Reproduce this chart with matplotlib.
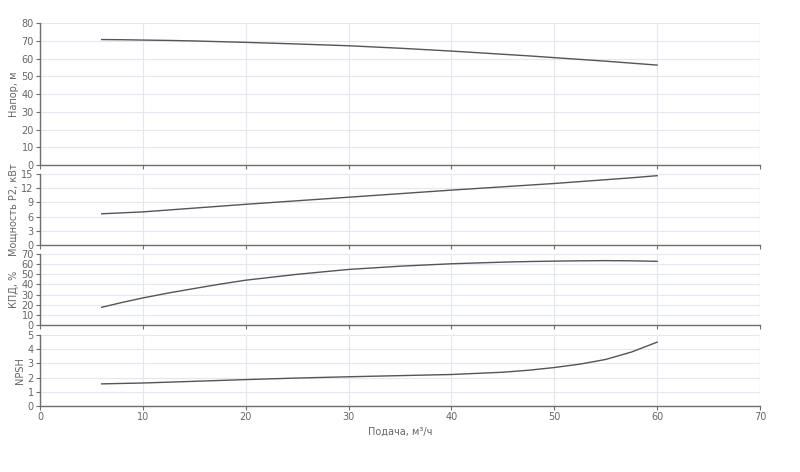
import matplotlib.pyplot as plt

# flow, m3/h
flow = [6, 8, 10, 12.5, 15, 17.5, 20, 25, 30, 35, 40, 45, 47.5, 50, 52.5, 55, 57.5, 60]
head = [70.7, 70.6, 70.4, 70.2, 69.9, 69.5, 69.1, 68.2, 67.2, 65.8, 64.2, 62.4, 61.5, 60.5,
        59.5, 58.5, 57.4, 56.3]
power = [6.6, 6.8, 7.0, 7.4, 7.8, 8.2, 8.6, 9.35, 10.1, 10.85, 11.6, 12.3, 12.65, 13.0,
         13.4, 13.8, 14.2, 14.65]
eff = [17.5, 22.3, 26.7, 31.6, 36.0, 40.3, 44.2, 50.0, 54.8, 58.0, 60.4, 62.0, 62.6, 63.0,
       63.3, 63.5, 63.3, 62.8]
npsh = [1.56, 1.59, 1.62, 1.68, 1.74, 1.80, 1.86, 1.97, 2.06, 2.14, 2.22, 2.38, 2.52, 2.71,
        2.95, 3.28, 3.8, 4.5]

x_ticks = [0, 10, 20, 30, 40, 50, 60, 70]
panels = [
    (head, 'Напор, м', [0, 10, 20, 30, 40, 50, 60, 70, 80]),
    (power, 'Мощность P2, кВт', [0, 3, 6, 9, 12, 15]),
    (eff, 'КПД, %', [0, 10, 20, 30, 40, 50, 60, 70]),
    (npsh, 'NPSH', [0, 1, 2, 3, 4, 5]),
]

# axes boxes in figure fraction (left, bottom, width, height)
boxes = [
    (0.05, 0.6504, 0.9, 0.3008),
    (0.05, 0.4809, 0.9, 0.1504),
    (0.05, 0.3114, 0.9, 0.1504),
    (0.05, 0.1398, 0.9, 0.1504),
]

grid_c = '#e3e7f0'
spine_c = '#6e6e6e'
text_c = '#666666'

fig = plt.figure(figsize=(8, 4.72), dpi=100)
for (vals, label, yt), box in zip(panels, boxes):
    ax = fig.add_axes(box)
    ax.plot(flow, vals, color='#555555', lw=1.0)
    ax.set_xlim(0, 70)
    ax.set_ylim(yt[0], yt[-1])
    ax.set_xticks(x_ticks)
    ax.set_yticks(yt)
    ax.grid(True, color=grid_c, lw=0.8)
    ax.set_axisbelow(True)
    for s in ['top', 'right']:
        ax.spines[s].set_visible(False)
    for s in ['left', 'bottom']:
        ax.spines[s].set_color(spine_c)
        ax.spines[s].set_linewidth(1.0)
    ax.tick_params(colors=spine_c, labelcolor=text_c, labelsize=7, length=3, width=0.8, pad=1.5)
    ax.set_ylabel(label, fontsize=7, color=text_c, labelpad=2)
    if box is boxes[-1]:
        ax.set_xlabel('Подача, м³/ч', fontsize=7, color=text_c, labelpad=3)
    else:
        ax.tick_params(axis='x', labelbottom=False)
    # vertical grid at the right end
    ax.axvline(70, color=grid_c, lw=0.8, zorder=0)

fig.savefig('out.png', dpi=100, facecolor='white')
